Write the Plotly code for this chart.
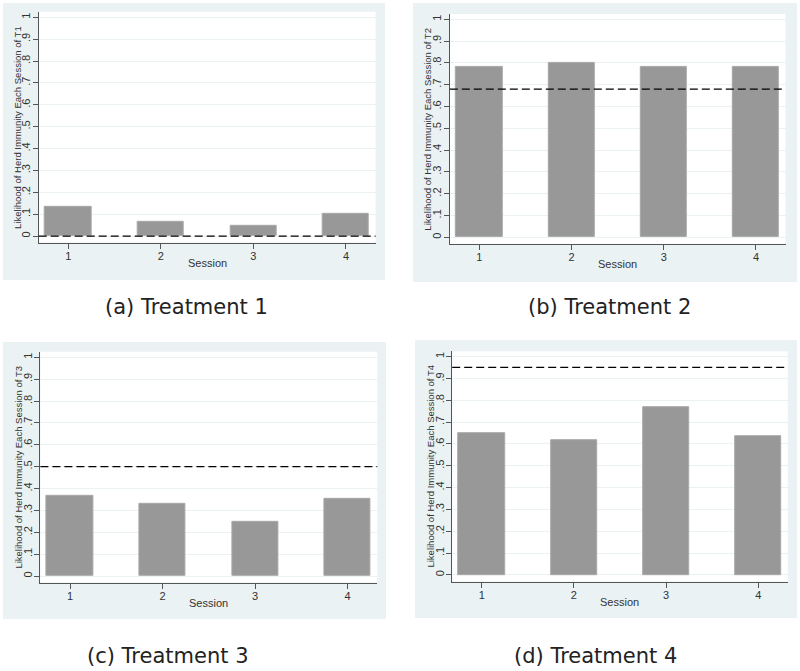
import plotly.graph_objects as go

sessions = [1, 2, 3, 4]
t1 = [0.133, 0.067, 0.048, 0.100]
t2 = [0.783, 0.801, 0.783, 0.783]
t3 = [0.366, 0.332, 0.250, 0.351]
t4 = [0.649, 0.618, 0.768, 0.635]
thresholds = [0.0, 0.68, 0.50, 0.951]
series = [t1, t2, t3, t4]
ytitles = ["Likelihood of Herd Immunity Each Session of T1",
           "Likelihood of Herd Immunity Each Session of T2",
           "Likelihood of Herd Immunity Each Session of T3",
           "Likelihood of Herd Immunity Each Session of T4"]
xtitle = "Session"
captions = ["(a) Treatment 1", "(b) Treatment 2", "(c) Treatment 3", "(d) Treatment 4"]
ytickvals = [i / 10 for i in range(11)]
yticktext = ["0", ".1", ".2", ".3", ".4", ".5", ".6", ".7", ".8", ".9", "1"]

W, H = 800, 671
# pixel layout: plot areas (left, right, top, bottom) and background regions
plot_px = [(38.7, 375.6, 11.8, 242.6),
           (449.8, 785.5, 13.9, 243.8),
           (40.4, 377.3, 351.8, 582.6),
           (452.2, 787.8, 351.2, 581.5)]
bg_px = [(3, 385, 3, 280), (413, 797, 3, 282), (3, 386, 342, 619), (415, 797, 340, 618)]
cap_px = [(186, 307), (609, 307), (168, 656), (595, 656)]

BG = "#EAF2F3"
TXT = "#333333"
FONT = "Liberation Sans, Arial"
fig = go.Figure()
shapes = []
annotations = []
for i, (vals, thr) in enumerate(zip(series, thresholds)):
    n = "" if i == 0 else str(i + 1)
    l, r, t, b = plot_px[i]
    xd = [l / W, r / W]
    yd = [1 - b / H, 1 - t / H]
    fig.add_trace(go.Bar(x=sessions, y=vals, width=0.5, xaxis="x" + n, yaxis="y" + n,
                         marker=dict(color="#989898", line=dict(color="#a8a8a8", width=1)),
                         showlegend=False, hoverinfo="skip"))
    fig.update_layout(**{
        "xaxis" + n: dict(domain=xd, anchor="y" + n, range=[0.68, 4.32],
                          tickvals=sessions, ticktext=[str(s) for s in sessions],
                          showline=True, linecolor="#555555", linewidth=1,
                          ticks="outside", ticklen=5, tickcolor="#555555",
                          ticklabelstandoff=-2,
                          showgrid=False, zeroline=False,
                          tickfont=dict(family=FONT, size=11, color=TXT)),
        "yaxis" + n: dict(domain=yd, anchor="x" + n, range=[-0.03, 1.025],
                          tickvals=ytickvals, ticktext=yticktext, tickangle=-90,
                          showline=True, linecolor="#555555", linewidth=1,
                          ticks="outside", ticklen=5, tickcolor="#555555",
                          ticklabelstandoff=-2,
                          showgrid=True, gridcolor=BG, gridwidth=1, zeroline=False,
                          tickfont=dict(family=FONT, size=11, color=TXT)),
    })
    bl, br, bt, bb = bg_px[i]
    shapes.append(dict(type="rect", xref="paper", yref="paper", x0=bl / W, x1=br / W,
                       y0=1 - bb / H, y1=1 - bt / H, fillcolor=BG, line=dict(width=0), layer="below"))
    shapes.append(dict(type="rect", xref="paper", yref="paper", x0=xd[0], x1=xd[1],
                       y0=yd[0], y1=yd[1], fillcolor="white", line=dict(width=0), layer="below"))
    shapes.append(dict(type="line", xref="x" + n + " domain", yref="y" + n, x0=0, x1=1,
                       y0=thr, y1=thr, line=dict(color="black", width=1.3, dash="8px,4px"),
                       layer="above"))
    # axis titles
    annotations.append(dict(text=ytitles[i], xref="paper", yref="paper",
                            x=(l - 22) / W, y=sum(yd) / 2, textangle=-90,
                            showarrow=False, xanchor="center", yanchor="middle",
                            font=dict(family=FONT, size=9.5, color=TXT)))
    annotations.append(dict(text=xtitle, xref="paper", yref="paper",
                            x=sum(xd) / 2, y=1 - (b + 20.5) / H,
                            showarrow=False, xanchor="center", yanchor="middle",
                            font=dict(family=FONT, size=11, color=TXT)))
    cx, cy = cap_px[i]
    annotations.append(dict(text=captions[i], xref="paper", yref="paper", x=cx / W, y=1 - cy / H,
                            showarrow=False, xanchor="center", yanchor="middle",
                            font=dict(family="DejaVu Sans", size=21, color="#222222")))

fig.update_layout(width=W, height=H, margin=dict(l=0, r=0, t=0, b=0),
                  paper_bgcolor="white", plot_bgcolor="rgba(0,0,0,0)",
                  shapes=shapes, annotations=annotations, bargap=0)
fig.write_html("out.html", config={"displayModeBar": False},
               post_script="document.body.style.margin='0';document.body.style.overflow='hidden';")
